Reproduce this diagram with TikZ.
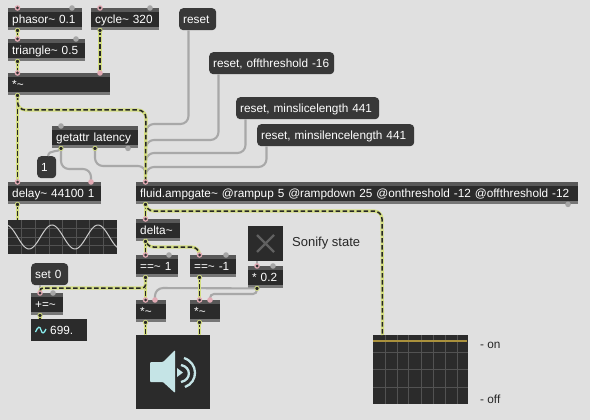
\documentclass[tikz,border=0pt]{standalone}
\usepackage{fontspec}
\setmainfont{Liberation Sans}
\usepackage{xcolor}
\usetikzlibrary{positioning, calc}
\definecolor{patchbg}{RGB}{224,224,224}
\definecolor{objdark}{RGB}{43,43,43}
\definecolor{objtop}{RGB}{88,88,88}
\definecolor{objbot}{RGB}{118,118,118}
\definecolor{msgdark}{RGB}{56,56,56}
\definecolor{ctrlgrey}{RGB}{168,168,168}
\definecolor{sigyellow}{RGB}{212,222,130}
\definecolor{inpink}{RGB}{226,170,180}
\definecolor{gridgrey}{RGB}{82,82,82}
\definecolor{dacblue}{RGB}{197,228,230}
\definecolor{stateline}{RGB}{170,145,60}
\newcommand{\tld}{\textasciitilde}
\tikzset{
  maxobj/.style={rectangle, fill=objdark, text=white, anchor=north west, inner xsep=4pt, inner ysep=0pt,
    minimum height=22pt, text width=#1pt-8pt, align=left, font=\fontsize{11.8}{13}\selectfont,
    text height=9.5pt, text depth=1.5pt,
    path picture={
      \fill[objtop] (path picture bounding box.north west) rectangle ([yshift=-3.5pt]path picture bounding box.north east);
      \fill[objbot] (path picture bounding box.south west) rectangle ([yshift=3.5pt]path picture bounding box.south east);
    }},
  msgbox/.style={rectangle, rounded corners=4pt, fill=msgdark, text=white, anchor=north west, inner xsep=4pt, inner ysep=0pt,
    minimum height=22pt, text width=#1pt-8pt, align=left, font=\fontsize{11.8}{13}\selectfont,
    text height=9.5pt, text depth=1.5pt},
  screen/.style={rectangle, fill=objdark, anchor=north west, inner sep=0pt},
  note/.style={anchor=west, inner sep=0pt, text=black!85, font=\fontsize{11.8}{13}\selectfont},
  ctrl/.style={draw=ctrlgrey, line width=2.1pt, rounded corners=8pt},
  sig/.style={draw=black!85, line width=1.5pt, dash pattern=on 4.5pt off 2.5pt, rounded corners=8pt,
    preaction={draw=sigyellow, line width=3.2pt, solid}},
  portin/.style={fill=inpink},
  portout/.style={fill=black!85, draw=sigyellow, line width=0.8pt},
  portoff/.style={fill=black!35}
}
\begin{document}
\begin{tikzpicture}[x=1pt, y=-1pt]
  \useasboundingbox[fill=patchbg] (0,0) rectangle (590,420);
  % objects
  \node[maxobj=74] (phasor) at (8,8) {phasor\tld{} 0.1};
  \node[maxobj=68] (cycle) at (91,8) {cycle\tld{} 320};
  \node[maxobj=77] (triangle) at (8,39) {triangle\tld{} 0.5};
  \node[maxobj=102] (times) at (8,73) {*\tld};
  \node[maxobj=86] (getattr) at (52,126) {getattr latency};
  \node[maxobj=93] (delay) at (8,182) {delay\tld{} 44100 1};
  \node[maxobj=442] (ampgate) at (136,182) {fluid.ampgate\tld{} @rampup 5 @rampdown 25 @onthreshold -12 @offthreshold -12};
  \node[maxobj=44] (delta) at (136,219) {delta\tld};
  \node[maxobj=42] (eqon) at (136,255) {==\tld{} 1};
  \node[maxobj=46] (eqoff) at (190,255) {==\tld{} -1};
  \node[maxobj=35] (gain) at (248,266) {* 0.2};
  \node[maxobj=30] (timeson) at (136,300) {*\tld};
  \node[maxobj=30] (timesoff) at (190,300) {*\tld};
  \node[maxobj=32] (accum) at (31,293) {+=\tld};
  % messages
  \node[msgbox=37] (reset) at (179,8) {reset};
  \node[msgbox=125] (resetoff) at (209,52) {reset, offthreshold -16};
  \node[msgbox=143] (resetslice) at (236,97) {reset, minslicelength 441};
  \node[msgbox=157] (resetsilence) at (257,124) {reset, minsilencelength 441};
  \node[msgbox=19] (one) at (37,156) {1};
  \node[msgbox=37] (setzero) at (31,263) {set 0};
  % number box
  \node[screen, minimum width=56pt, minimum height=22pt] (number) at (31,319) {};
  \node[anchor=west, text=white, inner sep=0pt, font=\fontsize{11.8}{13}\selectfont] (numval) at (50,330) {699.};
  \draw[dacblue!70!cyan, line width=1.3pt] (35.5,332) .. controls (38,326) and (40,326) .. (41,330) .. controls (42,334) and (44,334) .. (46,329);
  % scopes, toggle, dac
  \node[screen, minimum width=109pt, minimum height=34pt] (scopewave) at (8,220) {};
  \foreach \i in {1,...,7} {
    \draw[gridgrey, line width=0.6pt] ({8+\i*13.6},220) -- ({8+\i*13.6},254);
  }
  \foreach \j in {228,237,245} {
    \draw[gridgrey, line width=0.6pt] (8,\j) -- (117,\j);
  }
  \draw[black!20, line width=1pt] plot[domain=8:117, samples=90, smooth] (\x,{237-12*cos(7.826*(\x-52))});
  \node[screen, minimum width=95pt, minimum height=69pt] (scopestate) at (373,335) {};
  \foreach \i in {385,397,408,421,433,445,457} {
    \draw[gridgrey, line width=0.6pt] (\i,335) -- (\i,404);
  }
  \foreach \j in {352,369,387} {
    \draw[gridgrey, line width=0.6pt] (373,\j) -- (468,\j);
  }
  \draw[stateline, line width=1.4pt] (373,341) -- (467,341);
  \node[screen, minimum width=35pt, minimum height=35pt] (toggle) at (248,226) {};
  \draw[black!62, line width=2.4pt] (257,235) -- (274,252) (274,235) -- (257,252);
  \node[screen, minimum width=74pt, minimum height=74pt] (dac) at (136,335) {};
  \fill[dacblue, rounded corners=1pt] (150,362) -- (163,362) -- (175,350) -- (175,393) -- (163,382) -- (150,382) -- cycle;
  \fill[dacblue] (177,368) -- (183,372.5) -- (177,377) -- cycle;
  \draw[dacblue, line width=2.3pt] (181,365) .. controls (191.5,367) and (191.5,380) .. (181,382);
  \draw[dacblue, line width=2.3pt] (184,358) .. controls (198.5,363) and (198.5,382) .. (185,387);
  % control cords
  \draw[ctrl] ([xshift=9.5pt]reset.south west) -- (188.5,124) -- (146,124) -- ([xshift=9.5pt]ampgate.north west);
  \draw[ctrl] ([xshift=9.5pt]resetoff.south west) -- (218.5,140) -- (146,140) -- ([xshift=9.5pt]ampgate.north west);
  \draw[ctrl] ([xshift=9.5pt]resetslice.south west) -- (245.5,153) -- (146,153) -- ([xshift=9.5pt]ampgate.north west);
  \draw[ctrl] ([xshift=9.5pt]resetsilence.south west) -- (266.5,167) -- (146,167) -- ([xshift=9.5pt]ampgate.north west);
  \draw[ctrl] ([xshift=43pt]getattr.south west) -- (95,166) -- (146,166) -- ([xshift=9.5pt]ampgate.north west);
  \draw[ctrl] ([xshift=9pt]getattr.south west) -- (61,169) -- (91,169) -- ([xshift=83pt]delay.north west);
  \draw[ctrl] ([xshift=9pt]getattr.south west) .. controls (59,153) and (49,149) .. ([xshift=11pt]one.north west);
  \draw[ctrl] ([xshift=9pt]setzero.south west) -- ([xshift=9pt]accum.north west);
  \draw[ctrl] ([xshift=9pt]toggle.south west) -- ([xshift=9pt]gain.north west);
  \draw[ctrl] ([xshift=9pt]gain.south west) -- (155,288) -- ([xshift=19pt]timeson.north west);
  \draw[ctrl, rounded corners=4pt] ([xshift=9pt]gain.south west) -- (257,294) -- (210,294) -- ([xshift=20pt]timesoff.north west);
  % signal cords
  \draw[sig] ([xshift=9.5pt]phasor.south west) -- ([xshift=9.5pt]triangle.north west);
  \draw[sig] ([xshift=9.5pt]triangle.south west) -- ([xshift=9.5pt]times.north west);
  \draw[sig] ([xshift=9pt]cycle.south west) -- ([xshift=92pt]times.north west);
  \draw[sig] ([xshift=9.5pt]times.south west) -- ([xshift=9.5pt]delay.north west);
  \draw[sig] ([xshift=9.5pt]times.south west) -- (17.5,110) -- (146,110) -- ([xshift=9.5pt]ampgate.north west);
  \draw[sig] ([xshift=9.5pt]delay.south west) -- ([xshift=9.5pt]scopewave.north west);
  \draw[sig] ([xshift=9.5pt]ampgate.south west) -- ([xshift=9.5pt]delta.north west);
  \draw[sig] ([xshift=9.5pt]ampgate.south west) -- (145.5,211) -- (382,211) -- ([xshift=9.5pt]scopestate.north west);
  \draw[sig] ([xshift=9.5pt]delta.south west) -- ([xshift=9.5pt]eqon.north west);
  \draw[sig] ([xshift=9.5pt]delta.south west) -- (145.5,247) -- (199.5,247) -- ([xshift=9.5pt]eqoff.north west);
  \draw[sig] ([xshift=9.5pt]eqon.south west) -- ([xshift=9.5pt]timeson.north west);
  \draw[sig] ([xshift=9.5pt]eqoff.south west) -- ([xshift=9.5pt]timesoff.north west);
  \draw[sig, rounded corners=3pt] ([xshift=9.5pt]eqon.south west) -- (145.5,288) -- (40,288) -- ([xshift=9pt]accum.north west);
  \draw[sig] ([xshift=9pt]accum.south west) -- ([xshift=9pt]number.north west);
  \draw[sig] ([xshift=9.5pt]timeson.south west) -- ([xshift=9.5pt]dac.north west);
  \draw[sig] ([xshift=9.5pt]timesoff.south west) -- ([xshift=63.5pt]dac.north west);
  % inlets and outlets
  \foreach \p in {phasor,triangle,times,delay,ampgate,delta,eqon,eqoff,timeson,timesoff} {
    \fill[portin] ([xshift=9.5pt]\p.north west) circle (2.8pt);
    \fill[black!80] ([xshift=9.5pt]\p.north west) circle (1.5pt);
    \filldraw[portout] ([xshift=9.5pt]\p.south west) circle (2.2pt);
  }
  \foreach \p in {cycle,accum,gain} {
    \fill[portin] ([xshift=9pt]\p.north west) circle (2.8pt);
    \fill[black!80] ([xshift=9pt]\p.north west) circle (1.5pt);
    \filldraw[portout] ([xshift=9pt]\p.south west) circle (2.2pt);
  }
  \fill[portin] ([xshift=92pt]times.north west) circle (2.8pt);
  \fill[portin] ([xshift=83pt]delay.north west) circle (2.8pt);
  \fill[portin] ([xshift=19pt]timeson.north west) circle (2.8pt);
  \fill[portin] ([xshift=20pt]timesoff.north west) circle (2.8pt);
  \filldraw[portout] ([xshift=9pt]getattr.south west) circle (2.2pt);
  \filldraw[portout] ([xshift=43pt]getattr.south west) circle (2.2pt);
  \fill[portoff] ([xshift=64pt]phasor.north west) circle (2.8pt);
  \fill[portoff] ([xshift=59pt]cycle.north west) circle (2.8pt);
  \fill[portoff] ([xshift=68pt]triangle.north west) circle (2.8pt);
  \fill[portoff] ([xshift=9pt]getattr.north west) circle (2.8pt);
  \fill[portoff] ([xshift=76pt]getattr.south west) circle (2.8pt);
  \fill[portoff] ([xshift=432pt]ampgate.south west) circle (2.8pt);
  \fill[portoff] ([xshift=33pt]eqon.north west) circle (2.8pt);
  \fill[portoff] ([xshift=36pt]eqoff.north west) circle (2.8pt);
  \fill[portoff] ([xshift=25pt]gain.north west) circle (2.8pt);
  \fill[portoff] ([xshift=22pt]accum.north west) circle (2.8pt);
  % comments in the patch
  \node[note, font=\fontsize{13}{15}\selectfont] (sonify) at (292,243) {Sonify state};
  \node[note] (markon) at (480,345) {- on};
  \node[note] (markoff) at (480,399) {- off};
\end{tikzpicture}
\end{document}
